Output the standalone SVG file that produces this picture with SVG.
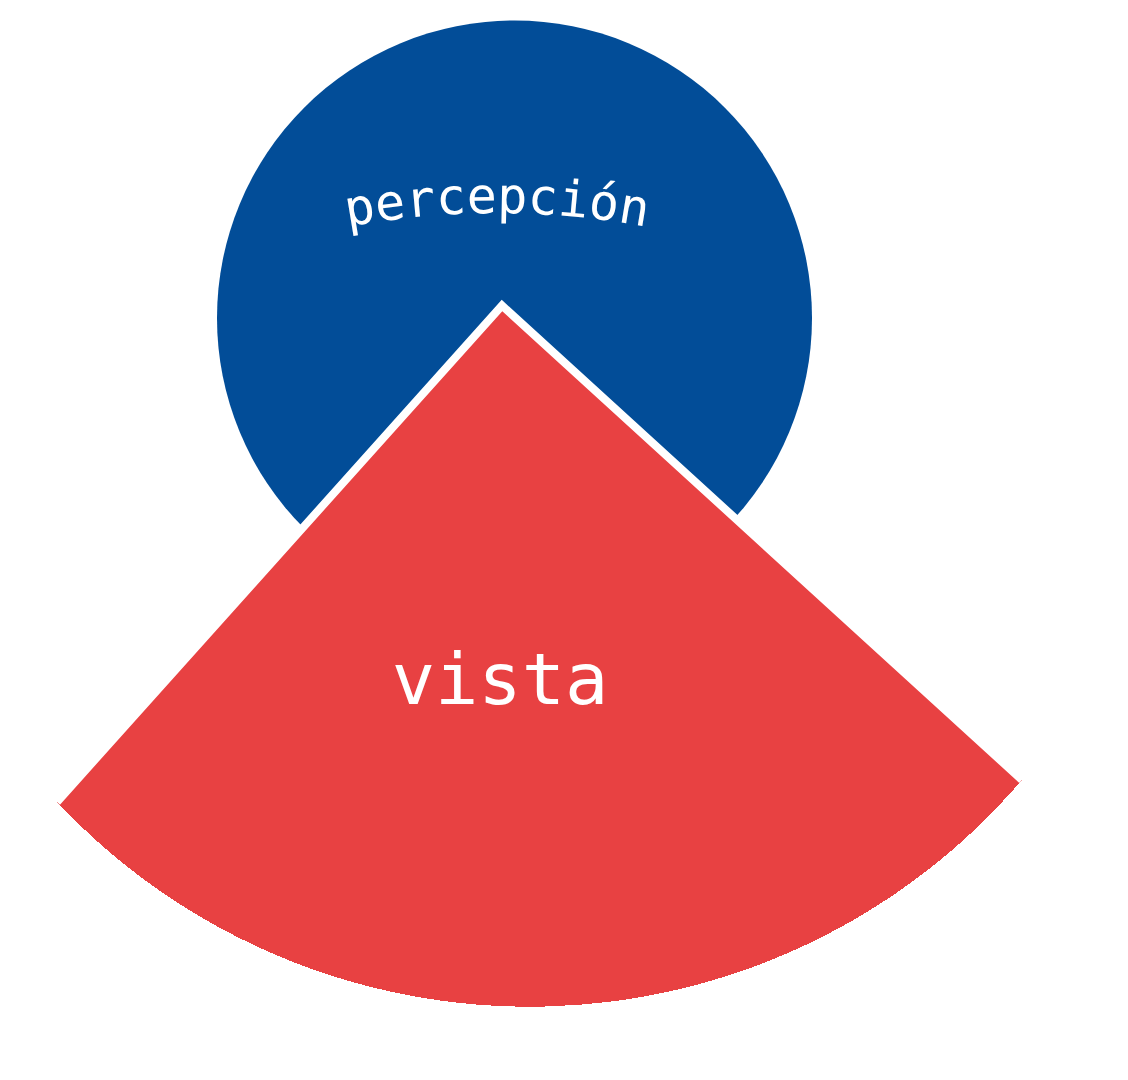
<svg xmlns="http://www.w3.org/2000/svg" width="1128" height="1080" viewBox="0 0 1128 1080">
  <style>
    .lbl { font-family: "DejaVu Sans Mono", "Liberation Mono", monospace; fill: #ffffff; }
  </style>
  <defs>
    <path id="arcPerc" d="M 297 237.5 A 830 830 0 0 1 697 237.5"/>
  </defs>
  <rect width="1128" height="1080" fill="#ffffff"/>
  <g id="node-percepcion">
    <circle cx="514.5" cy="318" r="297.5" fill="#024d98"/>
    <text class="lbl" font-size="50"><textPath href="#arcPerc" startOffset="50%" text-anchor="middle">percepción</textPath></text>
  </g>
  <g id="node-vista">
    <path d="M 502 305.5 L 57 802 A 648 648 0 0 0 1022 780 Z" fill="#e84142" shape-rendering="crispEdges"/>
    <polyline points="57,802 502,305.5 1022,780" fill="none" stroke="#ffffff" stroke-width="8" stroke-linejoin="miter" stroke-linecap="butt"/>
    <text class="lbl" x="500" y="704" font-size="72" text-anchor="middle">vista</text>
  </g>
  <g id="connectors"/>
</svg>
